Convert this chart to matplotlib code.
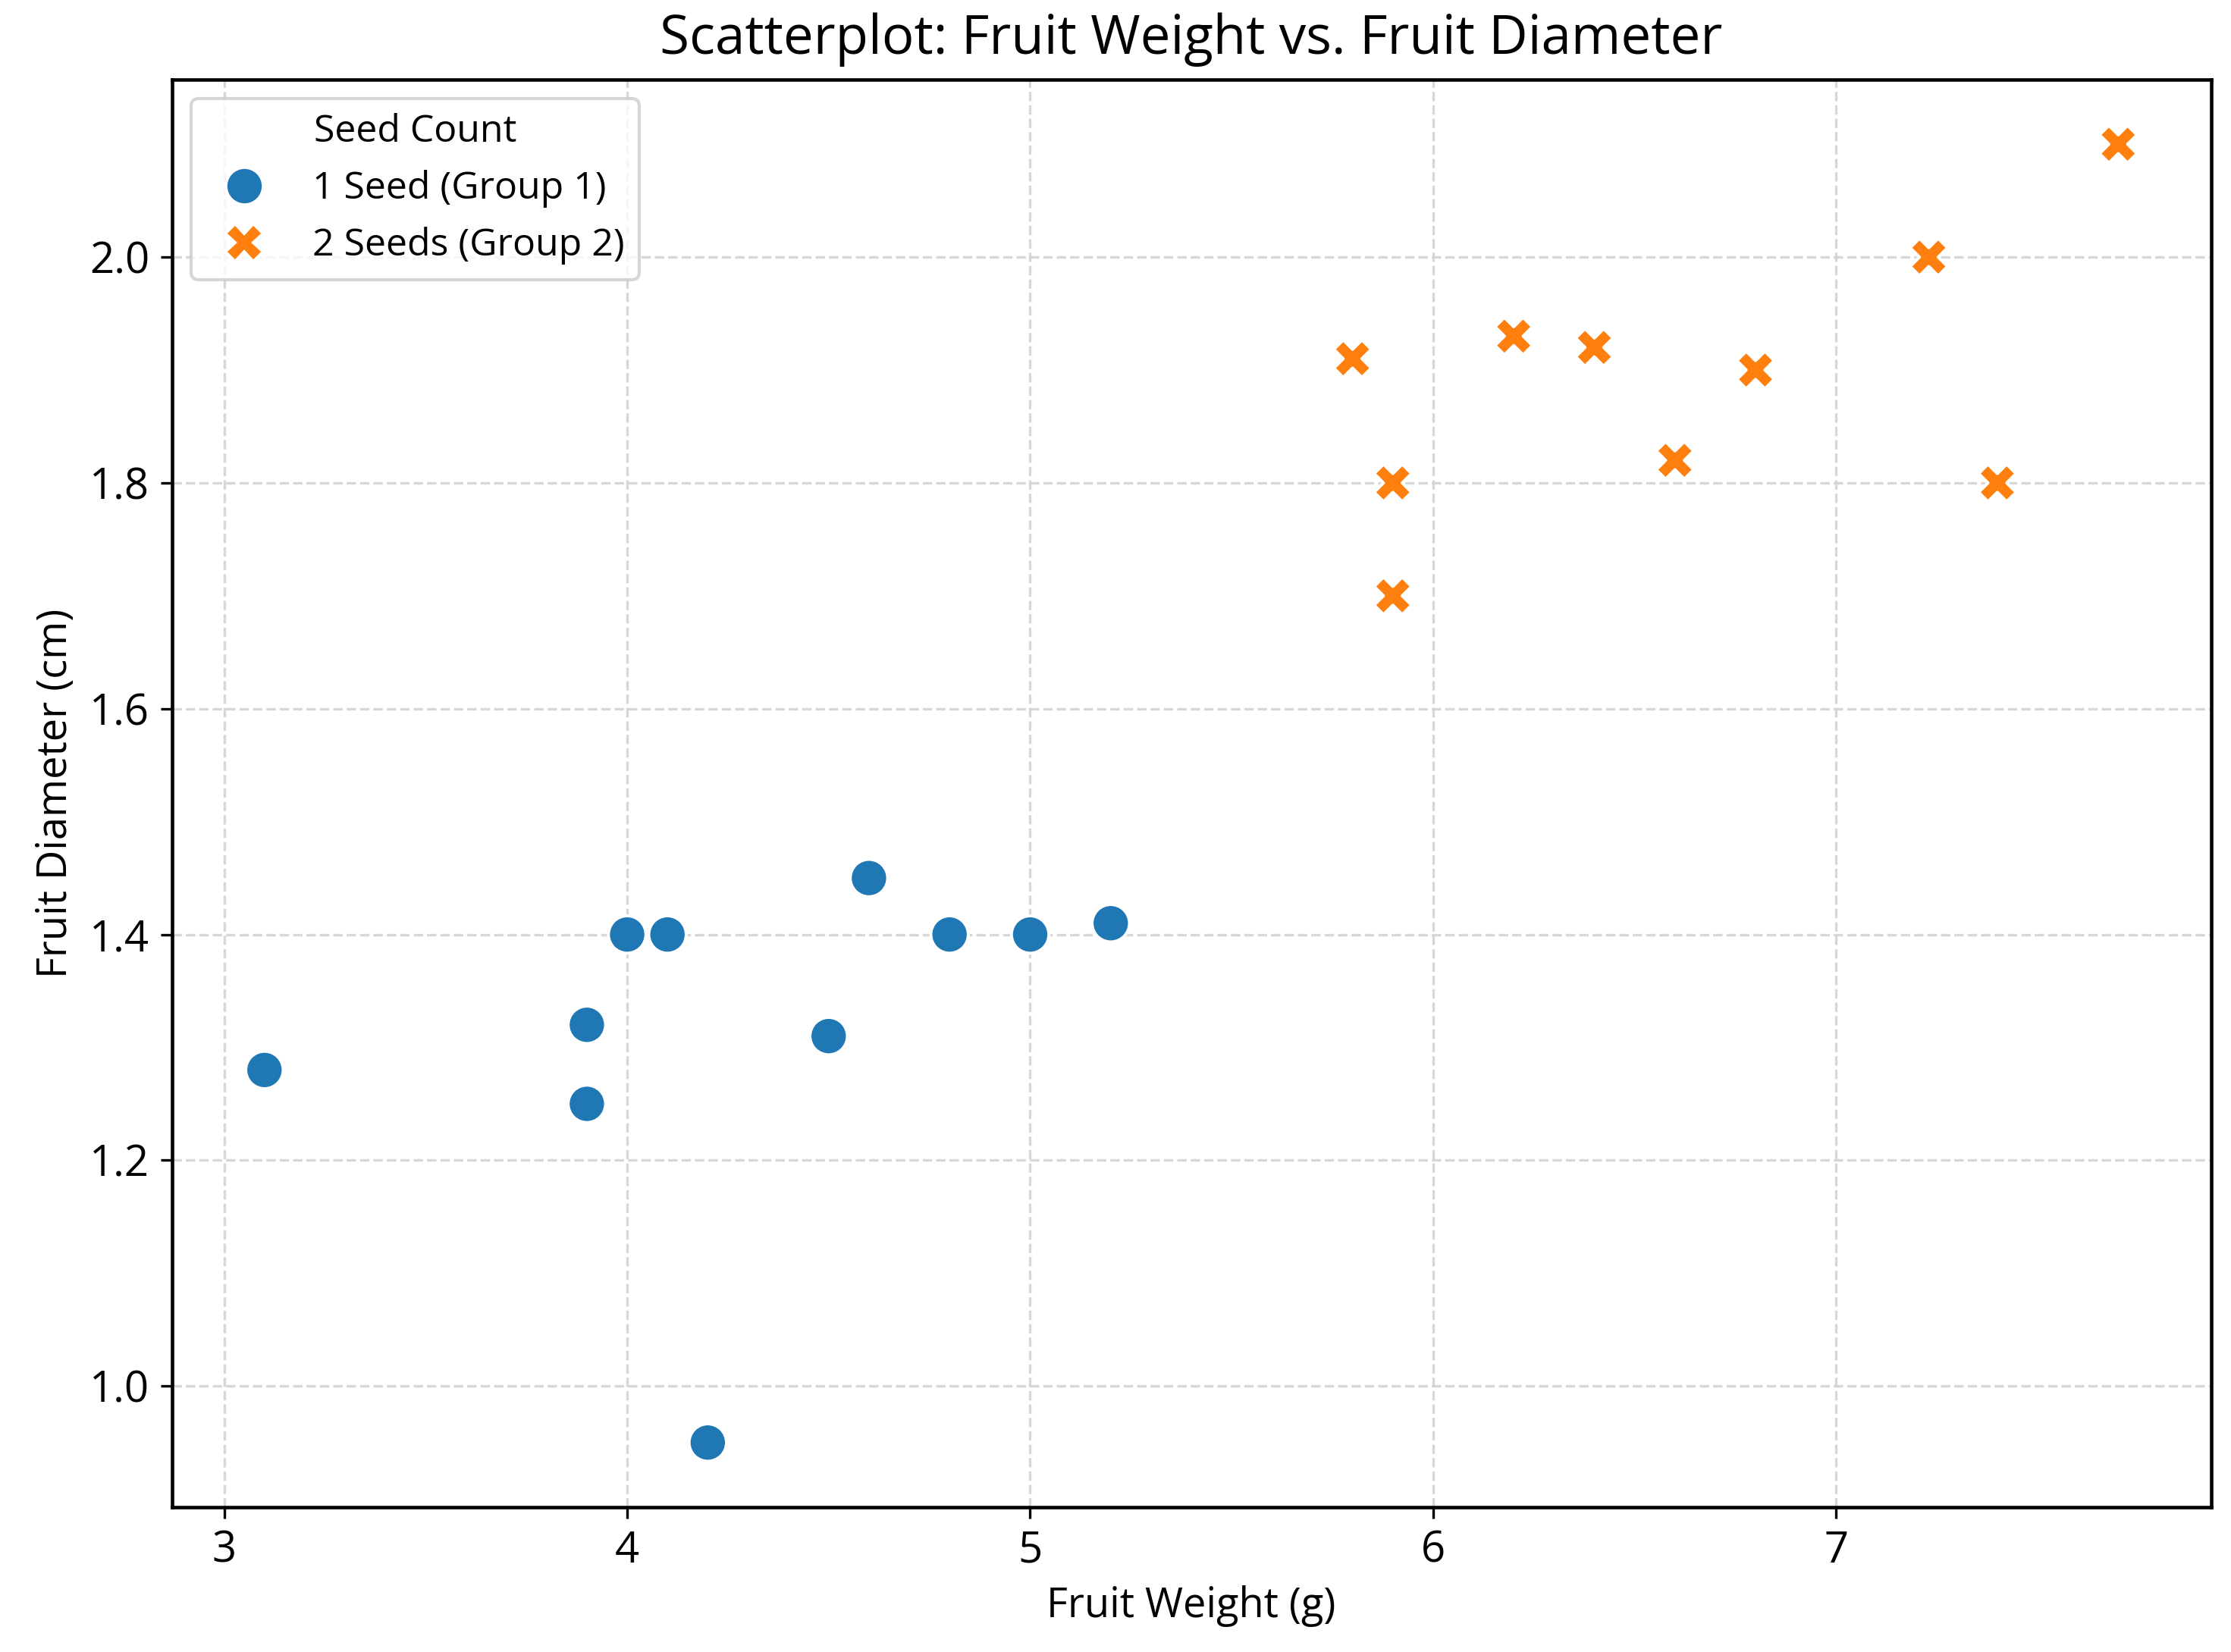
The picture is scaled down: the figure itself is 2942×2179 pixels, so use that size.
import numpy as np
import pandas as pd
import matplotlib
matplotlib.use('Agg')
import matplotlib.pyplot as plt
import seaborn as sns

# values
weight_1 = [3.1, 3.9, 3.9, 4.0, 4.1, 4.2, 4.5, 4.6, 4.8, 5.0, 5.2]
diam_1 = [1.28, 1.32, 1.25, 1.40, 1.40, 0.95, 1.31, 1.45, 1.40, 1.40, 1.41]
weight_2 = [5.8, 5.9, 5.9, 6.2, 6.4, 6.6, 6.8, 7.23, 7.4, 7.7]
diam_2 = [1.91, 1.80, 1.70, 1.93, 1.92, 1.82, 1.90, 2.00, 1.80, 2.10]
group_names = ['1 Seed (Group 1)', '2 Seeds (Group 2)']

df = pd.DataFrame({
    'weight': weight_1 + weight_2,
    'diameter': diam_1 + diam_2,
    'Seed Count': [group_names[0]] * len(weight_1) + [group_names[1]] * len(weight_2),
})

plt.rcParams['font.family'] = ['Open Sans', 'DejaVu Sans']

fig = plt.figure(figsize=(2942 / 300, 2179 / 300), dpi=300)
ax = fig.add_axes([0.077, 0.0875, 0.914, 0.8645])

sns.scatterplot(data=df, x='weight', y='diameter', hue='Seed Count', style='Seed Count',
                markers=['o', 'X'], s=140, ax=ax)

ax.grid(True, linestyle='--', color='lightgray', alpha=0.9, lw=0.8)
ax.set_axisbelow(True)
ax.set_title('Scatterplot: Fruit Weight vs. Fruit Diameter', fontsize=17, pad=8)
ax.set_xlabel('Fruit Weight (g)', fontsize=13)
ax.set_ylabel('Fruit Diameter (cm)', fontsize=13)
ax.tick_params(labelsize=13.5)
for sp in ax.spines.values():
    sp.set_linewidth(1.1)

leg = ax.legend(title='Seed Count', loc='upper left', fontsize=12, title_fontsize=12)

fig.savefig('out.png', dpi=300)
